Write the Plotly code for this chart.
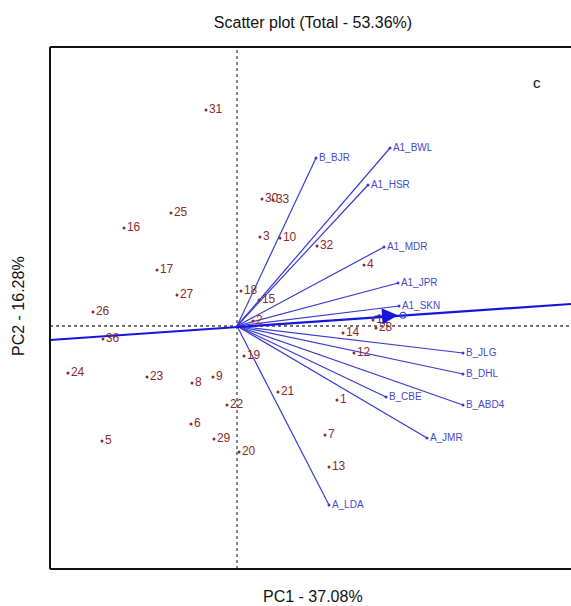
import plotly.graph_objects as go

# Observation scores (PC1, PC2)
obs_labels = ["1", "2", "3", "4", "5", "6", "7", "8", "9", "10", "11", "12", "13", "14", "15",
              "16", "17", "18", "19", "20", "21", "22", "23", "24", "25", "26", "27", "28",
              "29", "30", "31", "32", "33", "36"]
obs_pc1 = [2.00, 0.32, 0.46, 2.54, -2.70, -0.92, 1.76, -0.90, -0.48, 0.86, 2.72, 2.34, 1.84, 2.12, 0.44,
           -2.26, -1.60, 0.08, 0.14, 0.04, 0.82, -0.20, -1.80, -3.38, -1.32, -2.88, -1.20, 2.78,
           -0.46, 0.50, -0.62, 1.60, 0.72, -2.68]
obs_pc2 = [-1.48, 0.10, 1.78, 1.22, -2.30, -1.96, -2.18, -1.14, -1.02, 1.76, 0.12, -0.54, -2.82, -0.14, 0.52,
           1.96, 1.12, 0.70, -0.60, -2.52, -1.32, -1.58, -1.02, -0.94, 2.26, 0.28, 0.62, -0.04,
           -2.26, 2.54, 4.32, 1.60, 2.52, -0.26]

# Variable loadings (vector tips)
var_labels = ["B_BJR", "A1_BWL", "A1_HSR", "A1_MDR", "A1_JPR", "A1_SKN",
              "B_JLG", "B_DHL", "B_CBE", "B_ABD4", "A_JMR", "A_LDA"]
var_pc1 = [1.58, 3.06, 2.62, 2.94, 3.22, 3.24, 4.52, 4.52, 2.98, 4.52, 3.80, 1.84]
var_pc2 = [3.36, 3.56, 2.82, 1.58, 0.86, 0.40, -0.54, -0.96, -1.42, -1.58, -2.24, -3.58]

# Long axis line and arrow
axis_line_x = [-3.74, 6.68]
axis_line_y = [-0.28, 0.44]
arrow_tip = (3.22, 0.215)

x_range = [-3.74, 6.68]
y_range = [-4.86, 5.58]

W, H = 571, 606

fig = go.Figure()

# vector lines
vx, vy = [], []
for x, y in zip(var_pc1, var_pc2):
    vx += [0, x, None]
    vy += [0, y, None]
fig.add_trace(go.Scatter(x=vx, y=vy, mode="lines",
                         line=dict(color="#3a3ad0", width=1.2), hoverinfo="skip", showlegend=False))

# long axis line
fig.add_trace(go.Scatter(x=axis_line_x, y=axis_line_y, mode="lines",
                         line=dict(color="#1515e0", width=2.2), hoverinfo="skip", showlegend=False))

# vector tips + labels
fig.add_trace(go.Scatter(x=var_pc1, y=var_pc2, mode="markers+text", text=var_labels,
                         textposition="middle right",
                         marker=dict(color="#3a3ad0", size=3),
                         textfont=dict(family="Liberation Sans, Arial", size=10, color="#4848d0"),
                         showlegend=False))

# observations
fig.add_trace(go.Scatter(x=obs_pc1, y=obs_pc2, mode="markers+text", text=obs_labels,
                         textposition="middle right",
                         marker=dict(color="#8b2a2a", size=3),
                         textfont=dict(family="Liberation Sans, Arial", size=12, color="#8b2a2a"),
                         showlegend=False))

# small circle near arrow
fig.add_trace(go.Scatter(x=[arrow_tip[0] + 0.1], y=[arrow_tip[1]], mode="markers",
                         marker=dict(color="rgba(0,0,0,0)", size=6, line=dict(color="#3a3ad0", width=1.2)),
                         showlegend=False, hoverinfo="skip"))

# arrowhead
fig.add_annotation(x=arrow_tip[0], y=arrow_tip[1], ax=arrow_tip[0] - 0.5, ay=arrow_tip[1] - 0.034,
                   xref="x", yref="y", axref="x", ayref="y", text="", showarrow=True,
                   arrowhead=2, arrowsize=1.6, arrowwidth=2, arrowcolor="#1515e0")

# dotted zero lines
fig.add_shape(type="line", x0=0, x1=0, y0=0, y1=1, xref="x", yref="paper",
              line=dict(color="#444444", width=1.3, dash="dot"), layer="below")
fig.add_shape(type="line", x0=0, x1=1, y0=0, y1=0, xref="paper", yref="y",
              line=dict(color="#444444", width=1.3, dash="dot"), layer="below")

# frame (right side off-screen)
fig.add_shape(type="line", x0=0, x1=1.05, y0=1, y1=1, xref="paper", yref="paper",
              line=dict(color="#111111", width=2))
fig.add_shape(type="line", x0=0, x1=1.05, y0=0, y1=0, xref="paper", yref="paper",
              line=dict(color="#111111", width=2))
fig.add_shape(type="line", x0=0, x1=0, y0=0, y1=1, xref="paper", yref="paper",
              line=dict(color="#111111", width=2))

# plot area in page pixels: x 50..571, y 47..569
def px(p):
    return (p - 50) / 521


def py(p):
    return (569 - p) / 522


# panel letter
fig.add_annotation(x=px(537), y=py(82), xref="paper", yref="paper", text="c", showarrow=False,
                   xanchor="center", yanchor="middle",
                   font=dict(family="Liberation Sans, Arial", size=15, color="#111111"))

# axis titles
fig.add_annotation(x=px(313), y=py(596), xref="paper", yref="paper",
                   text="PC1 - 37.08%", showarrow=False, xanchor="center", yanchor="middle",
                   font=dict(family="Liberation Sans, Arial", size=16, color="#111111"))
fig.add_annotation(x=px(18), y=py(306), xref="paper", yref="paper",
                   text="PC2 - 16.28%", showarrow=False, textangle=-90,
                   xanchor="center", yanchor="middle",
                   font=dict(family="Liberation Sans, Arial", size=16, color="#111111"))

fig.update_layout(
    width=W, height=H,
    margin=dict(l=50, r=0, t=47, b=H - 569),
    paper_bgcolor="white", plot_bgcolor="white",
    title=dict(text="Scatter plot (Total - 53.36%)", x=313 / W, xanchor="center",
               y=1 - 22 / H, yanchor="middle",
               font=dict(family="Liberation Sans, Arial", size=16, color="#111111")),
    xaxis=dict(range=x_range, showgrid=False, zeroline=False, showticklabels=False, ticks=""),
    yaxis=dict(range=y_range, showgrid=False, zeroline=False, showticklabels=False, ticks=""),
)

fig.write_html(
    "out.html",
    config={"displayModeBar": False},
    post_script="document.body.style.margin='0px';document.body.style.overflow='hidden';",
)
